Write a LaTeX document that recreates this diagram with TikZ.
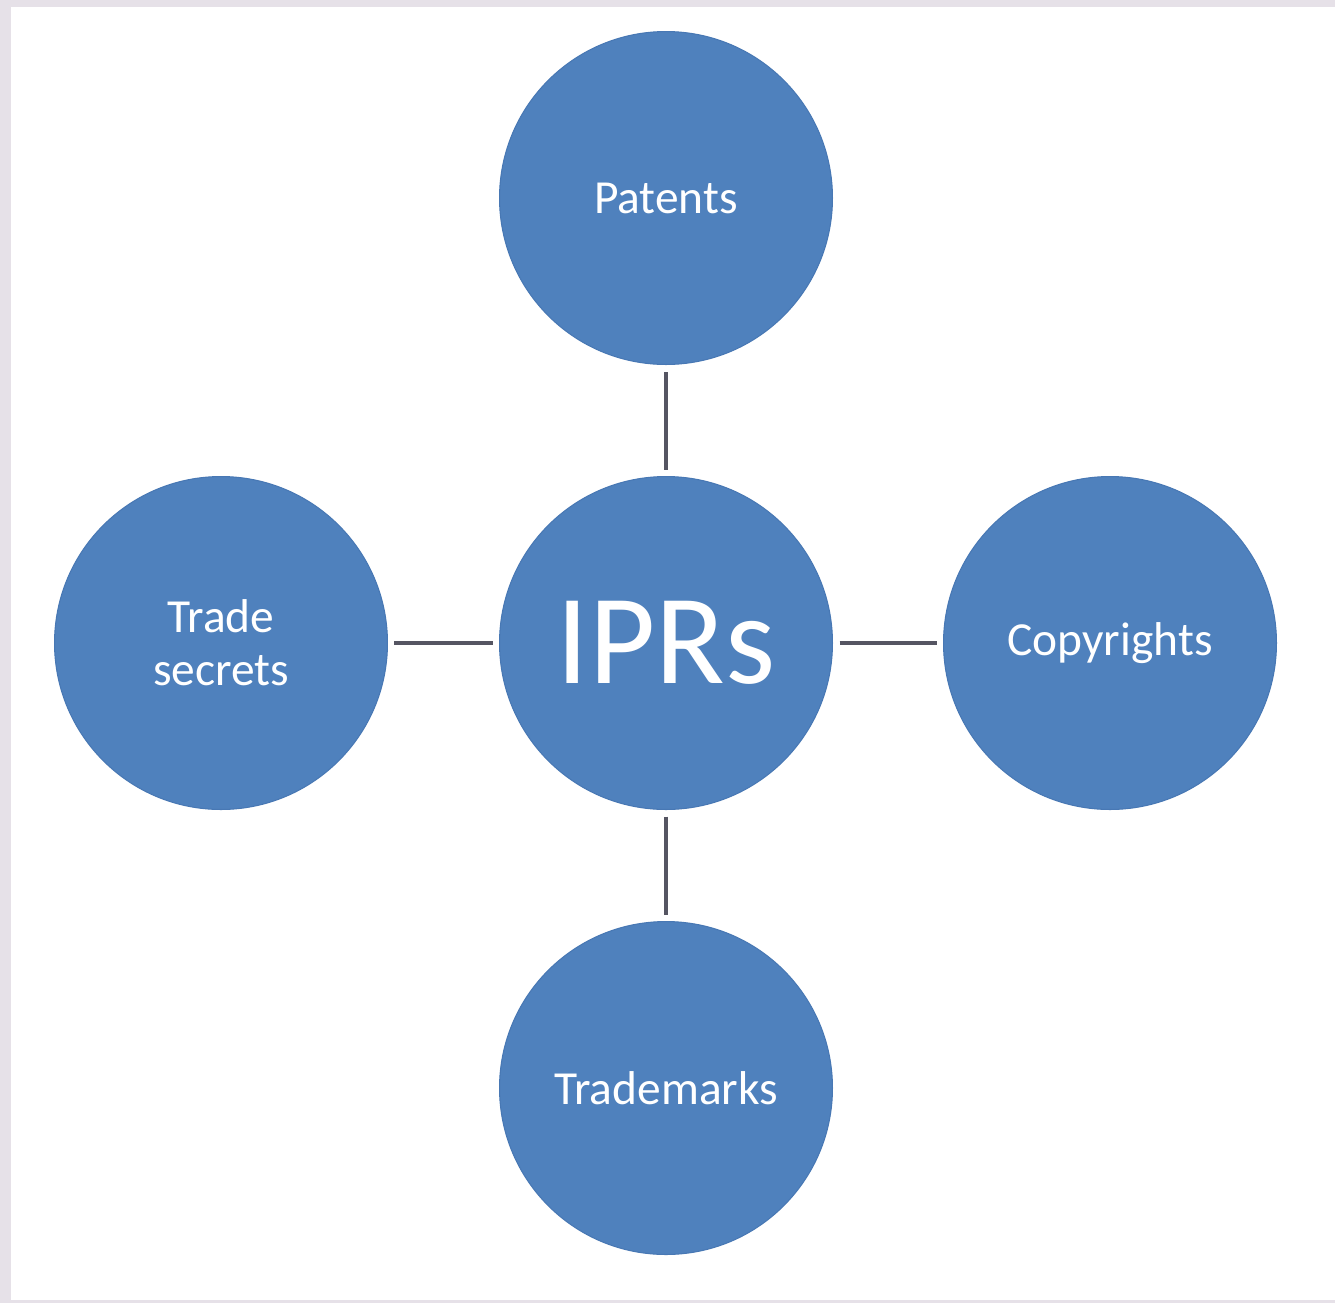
\documentclass[tikz,border=0pt]{standalone}
\usepackage{fontspec}
\setmainfont{Carlito}
\definecolor{ipblue}{RGB}{79, 129, 189}
\definecolor{ipedge}{RGB}{72, 120, 180}
\definecolor{linkgray}{RGB}{85, 85, 98}
\definecolor{framegray}{RGB}{230, 225, 232}
\usetikzlibrary{positioning}

\begin{document}
\begin{tikzpicture}[x=0.02cm, y=-0.02cm,
        every node/.style={font=\fontsize{27}{30}\selectfont},
        topic/.style={circle, draw=ipedge, line width=0.6pt, fill=ipblue, text=white,
            minimum size=6.66cm, inner sep=0pt, align=center},
        hub/.style={topic, font=\fontsize{73}{80}\selectfont},
        link/.style={draw=linkgray, line width=2.2pt, shorten <=0.13cm, shorten >=0.13cm}
    ]
    % Frame
    \fill[framegray] (0, 0) rectangle (1335, 1303);
    \fill[white] (11, 7) rectangle (1335, 1300);
    \useasboundingbox (0, 0) rectangle (1335, 1303);

    % Centre
    \node[hub] (iprs) at (666, 643) {IPRs};

    % Four kinds
    \node[topic] (pat) at (666, 198) {Patents};
    \node[topic] (copy) at (1110, 643) {Copyrights};
    \node[topic] (trade) at (221, 643) {Trade\\secrets};
    \node[topic] (mark) at (666, 1088) {Trademarks};

    % Links
    \draw[link] (iprs) -- (pat);
    \draw[link] (iprs) -- (copy);
    \draw[link] (iprs) -- (trade);
    \draw[link] (iprs) -- (mark);
\end{tikzpicture}
\end{document}
